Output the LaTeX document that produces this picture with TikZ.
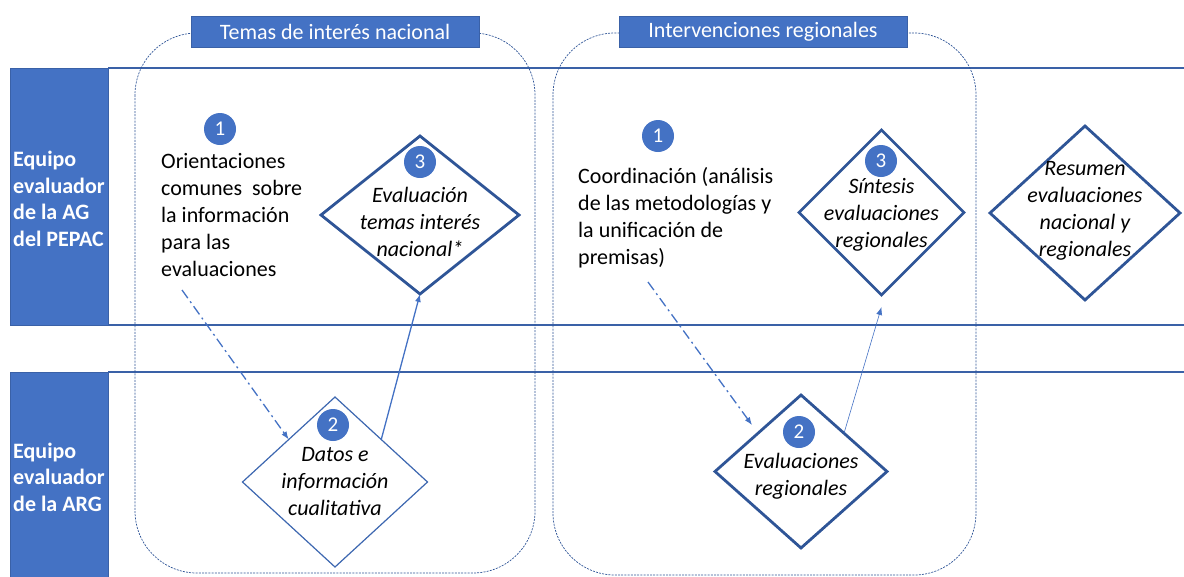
\documentclass[tikz,border=0pt]{standalone}
\usepackage{fontspec}
\setmainfont{Carlito}
\usepackage{tikz}
\usetikzlibrary{shapes.geometric,arrows.meta}
\definecolor{hdblue}{RGB}{68,114,196}
\definecolor{dkblue}{RGB}{47,85,151}
\tikzset{
  lanehead/.style={fill=hdblue, draw=hdblue!85!black, line width=0.6pt, anchor=north west},
  laneline/.style={draw=hdblue!85!black, line width=1.1pt},
  group/.style={draw=dkblue, line width=0.7pt, dash pattern=on 2pt off 1.2pt, rounded corners=62pt},
  grouptitle/.style={fill=hdblue, draw=hdblue!85!black, text=white, minimum width=288pt, minimum height=31pt, inner sep=0pt, font=\fontsize{22}{24}\selectfont},
  stepnum/.style={circle, fill=hdblue, text=white, minimum size=32pt, inner sep=0pt, font=\fontsize{21}{22}\selectfont},
  task/.style={diamond, draw=dkblue, fill=white, line width=2.8pt, inner sep=0pt, outer sep=0pt},
  subtask/.style={task, draw=hdblue!90!black, line width=1.2pt},
  tasktext/.style={align=center, inner sep=0pt, font=\fontsize{22}{27}\selectfont\itshape},
  plain/.style={align=left, inner sep=0pt, anchor=west, font=\fontsize{22}{27}\selectfont},
  teamlabel/.style={align=left, inner sep=0pt, anchor=west, text=white, font=\fontsize{22}{26.5}\selectfont\bfseries},
  flow/.style={-{Latex[length=8pt,width=6pt]}, draw=hdblue, line width=1.3pt},
  dashdot/.style={dash pattern=on 10pt off 4pt on 2pt off 4pt}
}
\begin{document}
\begin{tikzpicture}[x=1pt,y=-1pt]
    \useasboundingbox (0,0) rectangle (1184,576);
    \draw[laneline] (108,68) -- (1190,68) (108,325) -- (1190,325) (108,372) -- (1190,372);
    \node[lanehead, minimum width=98pt, minimum height=257pt] (agbox) at (10,68) {};
    \node[lanehead, minimum width=98pt, minimum height=210pt] (argbox) at (10,372) {};
    \node[teamlabel] (ag) at ([xshift=3pt,yshift=-2pt]agbox.west) {Equipo\\evaluador\\de la AG\\del PEPAC};
    \node[teamlabel] (arg) at ([xshift=3pt]argbox.west) {Equipo\\evaluador\\de la ARG};

    \draw[group] (135,33) rectangle (535,573);
    \draw[group] (553,33) rectangle (976,575);
    \node[grouptitle] (tnac) at (335,32) {Temas de interés nacional};
    \node[grouptitle] (treg) at (763,32) {Intervenciones regionales};

    \node[task, minimum width=198pt, minimum height=158pt] (evaltemas) at (420,215) {};
    \node[subtask, minimum width=185pt, minimum height=170pt] (datos) at (335,482) {};
    \node[task, minimum width=165pt, minimum height=165pt] (sintesis) at (881.5,212.5) {};
    \node[task, minimum width=172pt, minimum height=153pt] (evalreg) at (801,471.5) {};
    \node[task, minimum width=190pt, minimum height=174pt] (resumen) at (1085,213) {};

    \node[tasktext] (tevaltemas) at ([yshift=-7pt]evaltemas.center) {Evaluación\\temas interés\\nacional*};
    \node[tasktext] (tdatos) at (datos.center) {Datos e\\información\\cualitativa};
    \node[tasktext] (tsintesis) at ([yshift=-2.5pt]sintesis.center) {Síntesis\\evaluaciones\\regionales};
    \node[tasktext] (tevalreg) at ([yshift=-4.5pt]evalreg.center) {Evaluaciones\\regionales};
    \node[tasktext] (tresumen) at ([yshift=2pt]resumen.center) {Resumen\\evaluaciones\\nacional y\\regionales};

    \node[stepnum] (n1a) at (220,129) {1};
    \node[stepnum] (n3a) at (420,162) {3};
    \node[stepnum] (n2a) at (333,425) {2};
    \node[stepnum] (n1b) at (658,136) {1};
    \node[stepnum] (n3b) at (881,161) {3};
    \node[stepnum] (n2b) at (799,432) {2};

    \node[plain] (orient) at (161,215.5) {Orientaciones\\comunes\ \ sobre\\la información\\para las\\evaluaciones};
    \node[plain] (coord) at (578,218) {Coordinación (análisis\\de las metodologías y\\la unificación de\\premisas)};

    \coordinate (o1) at (182,290);
    \coordinate (o2) at (648,282);
    \draw[flow, dashdot] (o1) -- (datos.north west);
    \draw[flow] (datos.north east) -- (evaltemas.south);
    \draw[flow, dashdot, shorten >=10pt] (o2) -- (evalreg.north west);
    \draw[flow, line width=0.6pt] (evalreg.north east) -- ([yshift=-12pt]sintesis.south);
\end{tikzpicture}
\end{document}
